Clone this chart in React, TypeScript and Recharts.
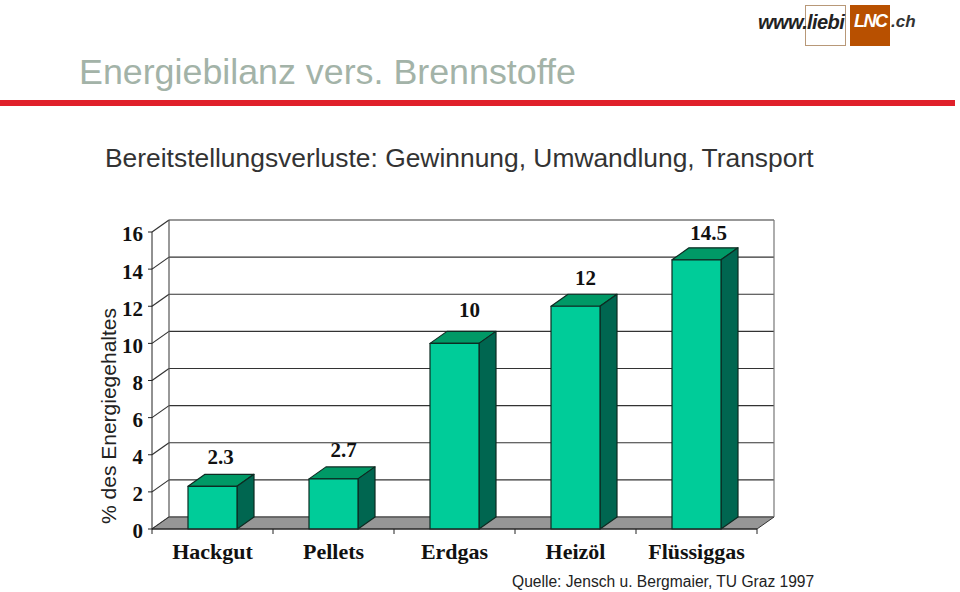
import { BarChart, Bar, XAxis, YAxis, CartesianGrid, LabelList, usePlotArea } from 'recharts'

const categories = ['Hackgut', 'Pellets', 'Erdgas', 'Heizöl', 'Flüssiggas']
const losses = [2.3, 2.7, 10, 12, 14.5]
const valueLabels = ['2.3', '2.7', '10', '12', '14.5']
const yTicks = [0, 2, 4, 6, 8, 10, 12, 14, 16]

// hand placed label shifts, the labels in the original are not quite regular
const labelShiftX = [8, 10, 15, 10, 12]
const labelShiftY = [22, 22, 26, 21, 20]

const data = categories.map((name, i) => ({ name, loss: losses[i] }))

const DX = 17
const DY = 12
const SERIF = '"Liberation Serif", serif'
const SANS = '"Liberation Sans", sans-serif'

function Bar3D(props: any) {
    const { x, y, width: w, height: h } = props
    return (
        <g stroke="#0d2b22" strokeWidth={1.2} strokeLinejoin="round">
            <polygon points={`${x},${y} ${x + DX},${y - DY} ${x + w + DX},${y - DY} ${x + w},${y}`} fill="#009966" />
            <polygon points={`${x + w},${y} ${x + w + DX},${y - DY} ${x + w + DX},${y + h - DY} ${x + w},${y + h}`} fill="#006650" />
            <rect x={x} y={y} width={w} height={h} fill="#00CC99" />
        </g>
    )
}

function GridLine(props: any) {
    const { x1, x2, y1, index } = props
    // the top line of the back wall is greyer than the others
    const isTop = index === 0
    return (
        <g stroke="#333" strokeWidth={1.2}>
            <line x1={x1} y1={y1} x2={x1 + DX} y2={y1 - DY} />
            <line x1={x1 + DX} y1={y1 - DY} x2={x2 + DX} y2={y1 - DY} stroke={isTop ? '#666' : '#333'} />
        </g>
    )
}

function ValueLabel(props: any) {
    const { x, y, width, index } = props
    return (
        <text
            x={x + width / 2 + labelShiftX[index]}
            y={y - labelShiftY[index]}
            textAnchor="middle"
            fontFamily={SERIF}
            fontWeight="bold"
            fontSize={21}
            fill="#111"
        >
            {valueLabels[index]}
        </text>
    )
}

// floor, back walls and the tick marks between the categories
function Frame() {
    const plot = usePlotArea()
    if (!plot) return null
    const left = plot.x
    const right = plot.x + plot.width
    const top = plot.y
    const bottom = plot.y + plot.height
    const step = plot.width / categories.length
    return (
        <g>
            <polygon
                points={`${left},${bottom} ${left + DX},${bottom - DY} ${right + DX},${bottom - DY} ${right},${bottom}`}
                fill="#969696"
                stroke="#333"
                strokeWidth={1}
            />
            <line x1={left + DX} y1={top - DY} x2={left + DX} y2={bottom - DY} stroke="#555" strokeWidth={1.2} />
            <line x1={right + DX} y1={top - DY} x2={right + DX} y2={bottom - DY} stroke="#777" strokeWidth={1.2} />
            {[...categories, ''].map((_, i) => (
                <line
                    key={i}
                    x1={left + i * step}
                    y1={bottom}
                    x2={left + i * step}
                    y2={bottom + 5}
                    stroke="#222"
                    strokeWidth={1}
                />
            ))}
            <text
                transform={`translate(116,416) rotate(-90)`}
                textAnchor="middle"
                fontFamily={SANS}
                fontSize={21}
                fill="#222"
            >
                % des Energiegehaltes
            </text>
        </g>
    )
}

function Logo() {
    return (
        <div style={{ position: 'absolute', left: 0, top: 0 }}>
            <div style={{ position: 'absolute', left: 805, top: 5, width: 39, height: 39, border: '1px solid #b89878' }} />
            <div style={{ position: 'absolute', left: 850, top: 5, width: 40, height: 41, background: '#b85000' }} />
            <div style={{ position: 'absolute', left: 758, top: 11, fontFamily: SANS, fontStyle: 'italic', fontWeight: 'bold', fontSize: 20, letterSpacing: -0.6, color: '#222', whiteSpace: 'nowrap' }}>
                www.liebi
            </div>
            <div style={{ position: 'absolute', left: 854, top: 11, fontFamily: SANS, fontStyle: 'italic', fontWeight: 'bold', fontSize: 18, letterSpacing: -1.5, color: '#fff' }}>
                LNC
            </div>
            <div style={{ position: 'absolute', left: 891, top: 12, fontFamily: SANS, fontStyle: 'italic', fontWeight: 'bold', fontSize: 17, color: '#333' }}>
                .ch
            </div>
        </div>
    )
}

export default function App() {
    return (
        <div style={{ position: 'absolute', left: 0, top: 0, width: 960, height: 592, overflow: 'hidden', background: '#fff' }}>
            <div style={{ position: 'absolute', left: 79, top: 52, fontFamily: SANS, fontSize: 35.8, color: '#a3b3a8', whiteSpace: 'nowrap' }}>
                Energiebilanz vers. Brennstoffe
            </div>
            <div style={{ position: 'absolute', left: 0, top: 100, width: 955, height: 6, background: '#e0202a' }} />
            <div style={{ position: 'absolute', left: 105, top: 143, fontFamily: SANS, fontSize: 26.4, color: '#333', whiteSpace: 'nowrap' }}>
                Bereitstellungsverluste: Gewinnung, Umwandlung, Transport
            </div>
            <Logo />
            <div style={{ position: 'absolute', left: 0, top: 0 }}>
                <BarChart
                    width={960}
                    height={592}
                    data={data}
                    margin={{ top: 232, right: 203, bottom: 0, left: 0 }}
                    barCategoryGap={36}
                >
                    <Frame />
                    <CartesianGrid vertical={false} horizontal={(p: any) => <GridLine key={p.key} {...p} />} />
                    <XAxis
                        dataKey="name"
                        height={63}
                        interval={0}
                        tickLine={false}
                        tickMargin={8}
                        axisLine={{ stroke: '#222' }}
                        tick={{ fontFamily: SERIF, fontWeight: 'bold', fontSize: 22, fill: '#111' }}
                    />
                    <YAxis
                        width={152}
                        domain={[0, 16]}
                        ticks={yTicks}
                        interval={0}
                        tickSize={4}
                        tickMargin={5}
                        axisLine={{ stroke: '#222' }}
                        tickLine={{ stroke: '#222' }}
                        tick={{ fontFamily: SERIF, fontWeight: 'bold', fontSize: 21, fill: '#111', dy: 2 }}
                    />
                    <Bar dataKey="loss" shape={<Bar3D />} isAnimationActive={false}>
                        <LabelList dataKey="loss" content={<ValueLabel />} />
                    </Bar>
                </BarChart>
            </div>
            <div style={{ position: 'absolute', left: 512, top: 573, fontFamily: SANS, fontSize: 15.6, color: '#222', whiteSpace: 'nowrap' }}>
                Quelle: Jensch u. Bergmaier, TU Graz 1997
            </div>
        </div>
    )
}
